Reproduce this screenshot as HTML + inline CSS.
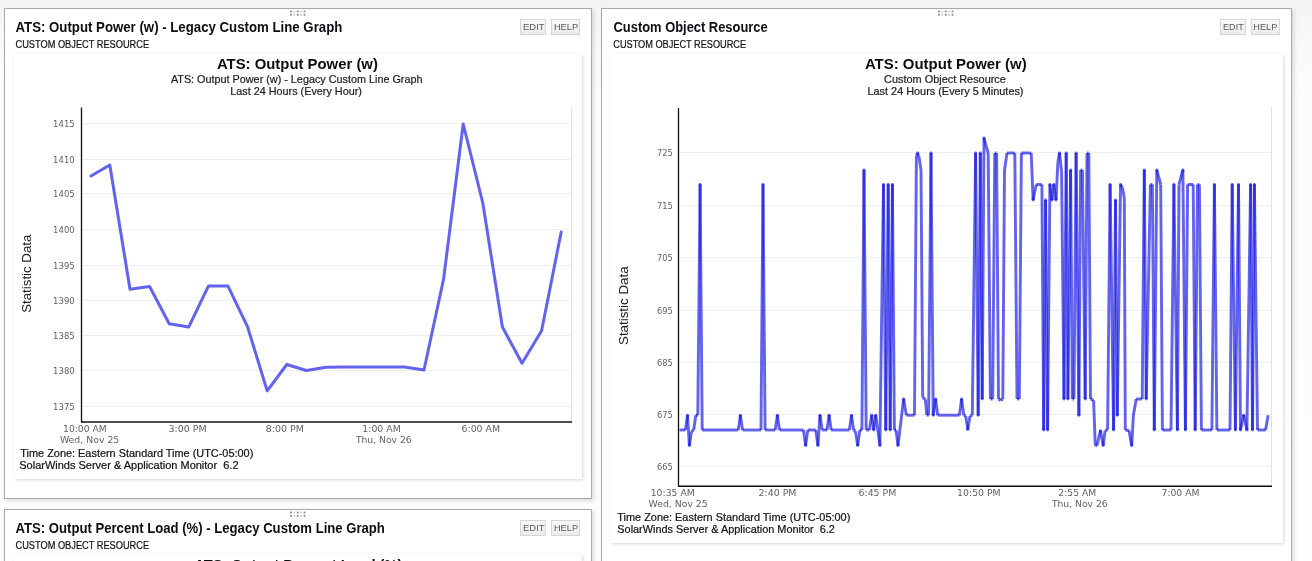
<!DOCTYPE html>
<html><head><meta charset="utf-8"><title>Custom Object Resource</title>
<style>
html,body{margin:0;padding:0;}
body{width:1312px;height:561px;overflow:hidden;background:linear-gradient(#f3f3f3 0px,#f6f6f6 20px,#f9f9f9 45px,#fcfcfc 95px,#fdfdfd 561px);position:relative;}
svg{position:absolute;left:0;top:0;}
</style></head><body>
<div style="position:absolute;left:4px;top:8px;width:588px;height:491px;box-sizing:border-box;border:1px solid #a9a9a9;background:#fff;box-shadow:2px 2px 4px rgba(0,0,0,0.13);"></div>
<div style="position:absolute;left:601px;top:8px;width:691px;height:600px;box-sizing:border-box;border:1px solid #a9a9a9;background:#fff;box-shadow:2px 2px 4px rgba(0,0,0,0.13);"></div>
<div style="position:absolute;left:4px;top:509px;width:588px;height:100px;box-sizing:border-box;border:1px solid #a9a9a9;background:#fff;box-shadow:2px 2px 4px rgba(0,0,0,0.13);"></div>
<div style="position:absolute;left:13.5px;top:53.5px;width:568.5px;height:425px;background:#fff;box-shadow:1px 1px 3px rgba(0,0,0,0.16);"></div>
<div style="position:absolute;left:610.5px;top:53.5px;width:672px;height:489.5px;background:#fff;box-shadow:1px 1px 3px rgba(0,0,0,0.16);"></div>
<div style="position:absolute;left:13.5px;top:554px;width:568.5px;height:50px;background:#fff;box-shadow:1px 1px 3px rgba(0,0,0,0.16);"></div>
<div style="position:absolute;left:520.3px;top:19px;width:26px;height:16px;box-sizing:border-box;border:1px solid #d6d6d6;background:linear-gradient(#f8f8f8,#ececec);"></div>
<div style="position:absolute;left:551.3px;top:19px;width:29px;height:16px;box-sizing:border-box;border:1px solid #d6d6d6;background:linear-gradient(#f8f8f8,#ececec);"></div>
<div style="position:absolute;left:1220.1px;top:19px;width:26px;height:16px;box-sizing:border-box;border:1px solid #d6d6d6;background:linear-gradient(#f8f8f8,#ececec);"></div>
<div style="position:absolute;left:1251.1px;top:19px;width:29px;height:16px;box-sizing:border-box;border:1px solid #d6d6d6;background:linear-gradient(#f8f8f8,#ececec);"></div>
<div style="position:absolute;left:520.3px;top:520px;width:26px;height:16px;box-sizing:border-box;border:1px solid #d6d6d6;background:linear-gradient(#f8f8f8,#ececec);"></div>
<div style="position:absolute;left:551.3px;top:520px;width:29px;height:16px;box-sizing:border-box;border:1px solid #d6d6d6;background:linear-gradient(#f8f8f8,#ececec);"></div>
<svg width="1312" height="561" viewBox="0 0 1312 561">
<rect x="290.0" y="10.6" width="1.8" height="1.8" fill="#8a8a8a"/>
<rect x="293.4" y="10.6" width="1.8" height="1.8" fill="#cfcfcf"/>
<rect x="296.8" y="10.6" width="1.8" height="1.8" fill="#8a8a8a"/>
<rect x="300.2" y="10.6" width="1.8" height="1.8" fill="#cfcfcf"/>
<rect x="303.6" y="10.6" width="1.8" height="1.8" fill="#8a8a8a"/>
<rect x="290.0" y="13.9" width="1.8" height="1.8" fill="#8a8a8a"/>
<rect x="293.4" y="13.9" width="1.8" height="1.8" fill="#cfcfcf"/>
<rect x="296.8" y="13.9" width="1.8" height="1.8" fill="#8a8a8a"/>
<rect x="300.2" y="13.9" width="1.8" height="1.8" fill="#cfcfcf"/>
<rect x="303.6" y="13.9" width="1.8" height="1.8" fill="#8a8a8a"/>
<rect x="938.0" y="10.6" width="1.8" height="1.8" fill="#8a8a8a"/>
<rect x="941.4" y="10.6" width="1.8" height="1.8" fill="#cfcfcf"/>
<rect x="944.8" y="10.6" width="1.8" height="1.8" fill="#8a8a8a"/>
<rect x="948.2" y="10.6" width="1.8" height="1.8" fill="#cfcfcf"/>
<rect x="951.6" y="10.6" width="1.8" height="1.8" fill="#8a8a8a"/>
<rect x="938.0" y="13.9" width="1.8" height="1.8" fill="#8a8a8a"/>
<rect x="941.4" y="13.9" width="1.8" height="1.8" fill="#cfcfcf"/>
<rect x="944.8" y="13.9" width="1.8" height="1.8" fill="#8a8a8a"/>
<rect x="948.2" y="13.9" width="1.8" height="1.8" fill="#cfcfcf"/>
<rect x="951.6" y="13.9" width="1.8" height="1.8" fill="#8a8a8a"/>
<rect x="290.0" y="511.6" width="1.8" height="1.8" fill="#8a8a8a"/>
<rect x="293.4" y="511.6" width="1.8" height="1.8" fill="#cfcfcf"/>
<rect x="296.8" y="511.6" width="1.8" height="1.8" fill="#8a8a8a"/>
<rect x="300.2" y="511.6" width="1.8" height="1.8" fill="#cfcfcf"/>
<rect x="303.6" y="511.6" width="1.8" height="1.8" fill="#8a8a8a"/>
<rect x="290.0" y="514.9" width="1.8" height="1.8" fill="#8a8a8a"/>
<rect x="293.4" y="514.9" width="1.8" height="1.8" fill="#cfcfcf"/>
<rect x="296.8" y="514.9" width="1.8" height="1.8" fill="#8a8a8a"/>
<rect x="300.2" y="514.9" width="1.8" height="1.8" fill="#cfcfcf"/>
<rect x="303.6" y="514.9" width="1.8" height="1.8" fill="#8a8a8a"/>
<line x1="82" y1="123.5" x2="571" y2="123.5" stroke="#eeeeee" stroke-width="1" />
<line x1="82" y1="159.5" x2="571" y2="159.5" stroke="#eeeeee" stroke-width="1" />
<line x1="82" y1="193.5" x2="571" y2="193.5" stroke="#eeeeee" stroke-width="1" />
<line x1="82" y1="229.5" x2="571" y2="229.5" stroke="#eeeeee" stroke-width="1" />
<line x1="82" y1="265.5" x2="571" y2="265.5" stroke="#eeeeee" stroke-width="1" />
<line x1="82" y1="300.5" x2="571" y2="300.5" stroke="#eeeeee" stroke-width="1" />
<line x1="82" y1="335.5" x2="571" y2="335.5" stroke="#eeeeee" stroke-width="1" />
<line x1="82" y1="370.5" x2="571" y2="370.5" stroke="#eeeeee" stroke-width="1" />
<line x1="82" y1="406.5" x2="571" y2="406.5" stroke="#eeeeee" stroke-width="1" />
<line x1="571.5" y1="107" x2="571.5" y2="421" stroke="#e4e4e4" stroke-width="1" />
<line x1="81.5" y1="107.5" x2="81.5" y2="422.5" stroke="#111" stroke-width="1.3" />
<line x1="81" y1="422" x2="572" y2="422" stroke="#111" stroke-width="1.6" />
<line x1="679" y1="152.5" x2="1271" y2="152.5" stroke="#eeeeee" stroke-width="1" />
<line x1="679" y1="205.5" x2="1271" y2="205.5" stroke="#eeeeee" stroke-width="1" />
<line x1="679" y1="257.5" x2="1271" y2="257.5" stroke="#eeeeee" stroke-width="1" />
<line x1="679" y1="310.5" x2="1271" y2="310.5" stroke="#eeeeee" stroke-width="1" />
<line x1="679" y1="362.5" x2="1271" y2="362.5" stroke="#eeeeee" stroke-width="1" />
<line x1="679" y1="414.5" x2="1271" y2="414.5" stroke="#eeeeee" stroke-width="1" />
<line x1="679" y1="466.5" x2="1271" y2="466.5" stroke="#eeeeee" stroke-width="1" />
<line x1="1271.5" y1="107" x2="1271.5" y2="485" stroke="#e4e4e4" stroke-width="1" />
<line x1="678.5" y1="107.9" x2="678.5" y2="486.5" stroke="#111" stroke-width="1.3" />
<line x1="678" y1="486.2" x2="1272" y2="486.2" stroke="#111" stroke-width="1.6" />
<polyline points="91,176 109.8,165.0 130,289.2 149.6,286.5 169.2,323.7 188.8,326.9 208.4,286.1 228,286.1 247.6,326.9 267.2,390.9 286.8,364.5 306.4,370.5 326,367.2 345.6,367 365.2,367 384.8,367 404.4,367 424,370 443.6,279 463.2,124 482.8,203 502.4,327 522,363.2 541.6,330.7 561.2,232" fill="none" stroke="rgb(25,25,225)" stroke-opacity="0.68" stroke-width="3.0" stroke-linejoin="round" stroke-linecap="round"/>
<line x1="679.5" y1="430" x2="685.4" y2="430" stroke="rgb(25,25,225)" stroke-opacity="0.68" stroke-width="2.9" stroke-linecap="butt"/>
<line x1="685.4" y1="430" x2="687.5" y2="415.2" stroke="rgb(25,25,225)" stroke-opacity="0.68" stroke-width="2.9" stroke-linecap="butt"/>
<line x1="687.5" y1="415.2" x2="689.4" y2="445.6" stroke="rgb(25,25,225)" stroke-opacity="0.68" stroke-width="2.9" stroke-linecap="butt"/>
<line x1="689.4" y1="445.6" x2="691.4" y2="431.5" stroke="rgb(25,25,225)" stroke-opacity="0.68" stroke-width="2.9" stroke-linecap="butt"/>
<line x1="691.4" y1="431.5" x2="693.7" y2="430" stroke="rgb(25,25,225)" stroke-opacity="0.68" stroke-width="2.9" stroke-linecap="butt"/>
<line x1="693.7" y1="430" x2="695.8" y2="415.2" stroke="rgb(25,25,225)" stroke-opacity="0.68" stroke-width="2.9" stroke-linecap="butt"/>
<line x1="695.8" y1="415.2" x2="697.8" y2="415.2" stroke="rgb(25,25,225)" stroke-opacity="0.68" stroke-width="2.9" stroke-linecap="butt"/>
<line x1="697.8" y1="415.2" x2="700.1" y2="184.5" stroke="rgb(25,25,225)" stroke-opacity="0.68" stroke-width="2.9" stroke-linecap="butt"/>
<line x1="700.1" y1="184.5" x2="702.2" y2="430" stroke="rgb(25,25,225)" stroke-opacity="0.68" stroke-width="2.9" stroke-linecap="butt"/>
<line x1="702.2" y1="430" x2="738.3" y2="430" stroke="rgb(25,25,225)" stroke-opacity="0.68" stroke-width="2.9" stroke-linecap="butt"/>
<line x1="738.3" y1="430" x2="740.4" y2="415.2" stroke="rgb(25,25,225)" stroke-opacity="0.68" stroke-width="2.9" stroke-linecap="butt"/>
<line x1="740.4" y1="415.2" x2="742.5" y2="430" stroke="rgb(25,25,225)" stroke-opacity="0.68" stroke-width="2.9" stroke-linecap="butt"/>
<line x1="742.5" y1="430" x2="761.0" y2="430" stroke="rgb(25,25,225)" stroke-opacity="0.68" stroke-width="2.9" stroke-linecap="butt"/>
<line x1="761.0" y1="430" x2="763.0" y2="184.5" stroke="rgb(25,25,225)" stroke-opacity="0.68" stroke-width="2.9" stroke-linecap="butt"/>
<line x1="763.0" y1="184.5" x2="765.1" y2="430" stroke="rgb(25,25,225)" stroke-opacity="0.68" stroke-width="2.9" stroke-linecap="butt"/>
<line x1="765.1" y1="430" x2="775.3" y2="430" stroke="rgb(25,25,225)" stroke-opacity="0.68" stroke-width="2.9" stroke-linecap="butt"/>
<line x1="775.3" y1="430" x2="777.4" y2="415.2" stroke="rgb(25,25,225)" stroke-opacity="0.68" stroke-width="2.9" stroke-linecap="butt"/>
<line x1="777.4" y1="415.2" x2="779.5" y2="430" stroke="rgb(25,25,225)" stroke-opacity="0.68" stroke-width="2.9" stroke-linecap="butt"/>
<line x1="779.5" y1="430" x2="803.5" y2="430" stroke="rgb(25,25,225)" stroke-opacity="0.68" stroke-width="2.9" stroke-linecap="butt"/>
<line x1="803.5" y1="430" x2="805.6" y2="445.6" stroke="rgb(25,25,225)" stroke-opacity="0.68" stroke-width="2.9" stroke-linecap="butt"/>
<line x1="805.6" y1="445.6" x2="807.8" y2="430" stroke="rgb(25,25,225)" stroke-opacity="0.68" stroke-width="2.9" stroke-linecap="butt"/>
<line x1="807.8" y1="430" x2="815.8" y2="430" stroke="rgb(25,25,225)" stroke-opacity="0.68" stroke-width="2.9" stroke-linecap="butt"/>
<line x1="815.8" y1="430" x2="817.9" y2="445.6" stroke="rgb(25,25,225)" stroke-opacity="0.68" stroke-width="2.9" stroke-linecap="butt"/>
<line x1="817.9" y1="445.6" x2="820.0" y2="415.2" stroke="rgb(25,25,225)" stroke-opacity="0.68" stroke-width="2.9" stroke-linecap="butt"/>
<line x1="820.0" y1="415.2" x2="822.1" y2="430" stroke="rgb(25,25,225)" stroke-opacity="0.68" stroke-width="2.9" stroke-linecap="butt"/>
<line x1="822.1" y1="430" x2="827.0" y2="430" stroke="rgb(25,25,225)" stroke-opacity="0.68" stroke-width="2.9" stroke-linecap="butt"/>
<line x1="827.0" y1="430" x2="829.1" y2="415.2" stroke="rgb(25,25,225)" stroke-opacity="0.68" stroke-width="2.9" stroke-linecap="butt"/>
<line x1="829.1" y1="415.2" x2="831.2" y2="430" stroke="rgb(25,25,225)" stroke-opacity="0.68" stroke-width="2.9" stroke-linecap="butt"/>
<line x1="831.2" y1="430" x2="849.4" y2="430" stroke="rgb(25,25,225)" stroke-opacity="0.68" stroke-width="2.9" stroke-linecap="butt"/>
<line x1="849.4" y1="430" x2="851.5" y2="415.2" stroke="rgb(25,25,225)" stroke-opacity="0.68" stroke-width="2.9" stroke-linecap="butt"/>
<line x1="851.5" y1="415.2" x2="853.6" y2="430" stroke="rgb(25,25,225)" stroke-opacity="0.68" stroke-width="2.9" stroke-linecap="butt"/>
<line x1="853.6" y1="430" x2="855.5" y2="431.5" stroke="rgb(25,25,225)" stroke-opacity="0.68" stroke-width="2.9" stroke-linecap="butt"/>
<line x1="855.5" y1="431.5" x2="857.7" y2="445.6" stroke="rgb(25,25,225)" stroke-opacity="0.68" stroke-width="2.9" stroke-linecap="butt"/>
<line x1="857.7" y1="445.6" x2="859.9" y2="430" stroke="rgb(25,25,225)" stroke-opacity="0.68" stroke-width="2.9" stroke-linecap="butt"/>
<line x1="859.9" y1="430" x2="861.9" y2="430" stroke="rgb(25,25,225)" stroke-opacity="0.68" stroke-width="2.9" stroke-linecap="butt"/>
<line x1="861.9" y1="430" x2="864.0" y2="170" stroke="rgb(25,25,225)" stroke-opacity="0.68" stroke-width="2.9" stroke-linecap="butt"/>
<line x1="864.0" y1="170" x2="866.2" y2="430" stroke="rgb(25,25,225)" stroke-opacity="0.68" stroke-width="2.9" stroke-linecap="butt"/>
<line x1="866.2" y1="430" x2="869.4" y2="430" stroke="rgb(25,25,225)" stroke-opacity="0.68" stroke-width="2.9" stroke-linecap="butt"/>
<line x1="869.4" y1="430" x2="871.7" y2="415.2" stroke="rgb(25,25,225)" stroke-opacity="0.68" stroke-width="2.9" stroke-linecap="butt"/>
<line x1="871.7" y1="415.2" x2="873.7" y2="430" stroke="rgb(25,25,225)" stroke-opacity="0.68" stroke-width="2.9" stroke-linecap="butt"/>
<line x1="873.7" y1="430" x2="875.7" y2="415.2" stroke="rgb(25,25,225)" stroke-opacity="0.68" stroke-width="2.9" stroke-linecap="butt"/>
<line x1="875.7" y1="415.2" x2="877.8" y2="430" stroke="rgb(25,25,225)" stroke-opacity="0.68" stroke-width="2.9" stroke-linecap="butt"/>
<line x1="877.8" y1="430" x2="879.9" y2="445.6" stroke="rgb(25,25,225)" stroke-opacity="0.68" stroke-width="2.9" stroke-linecap="butt"/>
<line x1="879.9" y1="445.6" x2="883.5" y2="184.5" stroke="rgb(25,25,225)" stroke-opacity="0.68" stroke-width="2.9" stroke-linecap="butt"/>
<line x1="883.5" y1="184.5" x2="885.8" y2="430" stroke="rgb(25,25,225)" stroke-opacity="0.68" stroke-width="2.9" stroke-linecap="butt"/>
<line x1="885.8" y1="430" x2="888.2" y2="184.5" stroke="rgb(25,25,225)" stroke-opacity="0.68" stroke-width="2.9" stroke-linecap="butt"/>
<line x1="888.2" y1="184.5" x2="890.2" y2="430" stroke="rgb(25,25,225)" stroke-opacity="0.68" stroke-width="2.9" stroke-linecap="butt"/>
<line x1="890.2" y1="430" x2="892.4" y2="184.5" stroke="rgb(25,25,225)" stroke-opacity="0.68" stroke-width="2.9" stroke-linecap="butt"/>
<line x1="892.4" y1="184.5" x2="894.4" y2="430" stroke="rgb(25,25,225)" stroke-opacity="0.68" stroke-width="2.9" stroke-linecap="butt"/>
<line x1="894.4" y1="430" x2="896.0" y2="430" stroke="rgb(25,25,225)" stroke-opacity="0.68" stroke-width="2.9" stroke-linecap="butt"/>
<line x1="896.0" y1="430" x2="898.0" y2="445.6" stroke="rgb(25,25,225)" stroke-opacity="0.68" stroke-width="2.9" stroke-linecap="butt"/>
<line x1="898.0" y1="445.6" x2="903.6" y2="399" stroke="rgb(25,25,225)" stroke-opacity="0.68" stroke-width="2.9" stroke-linecap="butt"/>
<line x1="903.6" y1="399" x2="906.4" y2="415.2" stroke="rgb(25,25,225)" stroke-opacity="0.68" stroke-width="2.9" stroke-linecap="butt"/>
<line x1="906.4" y1="415.2" x2="914.5" y2="415.2" stroke="rgb(25,25,225)" stroke-opacity="0.68" stroke-width="2.9" stroke-linecap="butt"/>
<line x1="914.5" y1="415.2" x2="916.4" y2="156" stroke="rgb(25,25,225)" stroke-opacity="0.68" stroke-width="2.9" stroke-linecap="butt"/>
<line x1="916.4" y1="156" x2="917.6" y2="153" stroke="rgb(25,25,225)" stroke-opacity="0.68" stroke-width="2.9" stroke-linecap="butt"/>
<line x1="917.6" y1="153" x2="919.2" y2="158" stroke="rgb(25,25,225)" stroke-opacity="0.68" stroke-width="2.9" stroke-linecap="butt"/>
<line x1="919.2" y1="158" x2="921.0" y2="170" stroke="rgb(25,25,225)" stroke-opacity="0.68" stroke-width="2.9" stroke-linecap="butt"/>
<line x1="921.0" y1="170" x2="922.7" y2="397.5" stroke="rgb(25,25,225)" stroke-opacity="0.68" stroke-width="2.9" stroke-linecap="butt"/>
<line x1="922.7" y1="397.5" x2="925.4" y2="399.5" stroke="rgb(25,25,225)" stroke-opacity="0.68" stroke-width="2.9" stroke-linecap="butt"/>
<line x1="925.4" y1="399.5" x2="926.8" y2="415.2" stroke="rgb(25,25,225)" stroke-opacity="0.68" stroke-width="2.9" stroke-linecap="butt"/>
<line x1="926.8" y1="415.2" x2="928.6" y2="415.2" stroke="rgb(25,25,225)" stroke-opacity="0.68" stroke-width="2.9" stroke-linecap="butt"/>
<line x1="928.6" y1="415.2" x2="931.0" y2="153" stroke="rgb(25,25,225)" stroke-opacity="0.68" stroke-width="2.9" stroke-linecap="butt"/>
<line x1="931.0" y1="153" x2="933.2" y2="415.2" stroke="rgb(25,25,225)" stroke-opacity="0.68" stroke-width="2.9" stroke-linecap="butt"/>
<line x1="933.2" y1="415.2" x2="935.6" y2="399" stroke="rgb(25,25,225)" stroke-opacity="0.68" stroke-width="2.9" stroke-linecap="butt"/>
<line x1="935.6" y1="399" x2="937.7" y2="415.2" stroke="rgb(25,25,225)" stroke-opacity="0.68" stroke-width="2.9" stroke-linecap="butt"/>
<line x1="937.7" y1="415.2" x2="959.4" y2="415.2" stroke="rgb(25,25,225)" stroke-opacity="0.68" stroke-width="2.9" stroke-linecap="butt"/>
<line x1="959.4" y1="415.2" x2="961.6" y2="399" stroke="rgb(25,25,225)" stroke-opacity="0.68" stroke-width="2.9" stroke-linecap="butt"/>
<line x1="961.6" y1="399" x2="963.8" y2="415.2" stroke="rgb(25,25,225)" stroke-opacity="0.68" stroke-width="2.9" stroke-linecap="butt"/>
<line x1="963.8" y1="415.2" x2="965.7" y2="416" stroke="rgb(25,25,225)" stroke-opacity="0.68" stroke-width="2.9" stroke-linecap="butt"/>
<line x1="965.7" y1="416" x2="967.8" y2="429.5" stroke="rgb(25,25,225)" stroke-opacity="0.68" stroke-width="2.9" stroke-linecap="butt"/>
<line x1="967.8" y1="429.5" x2="970.0" y2="416" stroke="rgb(25,25,225)" stroke-opacity="0.68" stroke-width="2.9" stroke-linecap="butt"/>
<line x1="970.0" y1="416" x2="972.3" y2="415.2" stroke="rgb(25,25,225)" stroke-opacity="0.68" stroke-width="2.9" stroke-linecap="butt"/>
<line x1="972.3" y1="415.2" x2="975.6" y2="153" stroke="rgb(25,25,225)" stroke-opacity="0.68" stroke-width="2.9" stroke-linecap="butt"/>
<line x1="975.6" y1="153" x2="978.2" y2="415.2" stroke="rgb(25,25,225)" stroke-opacity="0.68" stroke-width="2.9" stroke-linecap="butt"/>
<line x1="978.2" y1="415.2" x2="980.3" y2="153" stroke="rgb(25,25,225)" stroke-opacity="0.68" stroke-width="2.9" stroke-linecap="butt"/>
<line x1="980.3" y1="153" x2="982.2" y2="399" stroke="rgb(25,25,225)" stroke-opacity="0.68" stroke-width="2.9" stroke-linecap="butt"/>
<line x1="982.2" y1="399" x2="984.0" y2="138" stroke="rgb(25,25,225)" stroke-opacity="0.68" stroke-width="2.9" stroke-linecap="butt"/>
<line x1="984.0" y1="138" x2="986.1" y2="146" stroke="rgb(25,25,225)" stroke-opacity="0.68" stroke-width="2.9" stroke-linecap="butt"/>
<line x1="986.1" y1="146" x2="988.2" y2="153" stroke="rgb(25,25,225)" stroke-opacity="0.68" stroke-width="2.9" stroke-linecap="butt"/>
<line x1="988.2" y1="153" x2="990.4" y2="399" stroke="rgb(25,25,225)" stroke-opacity="0.68" stroke-width="2.9" stroke-linecap="butt"/>
<line x1="990.4" y1="399" x2="992.7" y2="399" stroke="rgb(25,25,225)" stroke-opacity="0.68" stroke-width="2.9" stroke-linecap="butt"/>
<line x1="992.7" y1="399" x2="994.8" y2="153" stroke="rgb(25,25,225)" stroke-opacity="0.68" stroke-width="2.9" stroke-linecap="butt"/>
<line x1="994.8" y1="153" x2="996.6" y2="153" stroke="rgb(25,25,225)" stroke-opacity="0.68" stroke-width="2.9" stroke-linecap="butt"/>
<line x1="996.6" y1="153" x2="998.5" y2="399" stroke="rgb(25,25,225)" stroke-opacity="0.68" stroke-width="2.9" stroke-linecap="butt"/>
<line x1="998.5" y1="399" x2="1000.6" y2="400.5" stroke="rgb(25,25,225)" stroke-opacity="0.68" stroke-width="2.9" stroke-linecap="butt"/>
<line x1="1000.6" y1="400.5" x2="1002.8" y2="399" stroke="rgb(25,25,225)" stroke-opacity="0.68" stroke-width="2.9" stroke-linecap="butt"/>
<line x1="1002.8" y1="399" x2="1004.5" y2="170" stroke="rgb(25,25,225)" stroke-opacity="0.68" stroke-width="2.9" stroke-linecap="butt"/>
<line x1="1004.5" y1="170" x2="1007.0" y2="153" stroke="rgb(25,25,225)" stroke-opacity="0.68" stroke-width="2.9" stroke-linecap="butt"/>
<line x1="1007.0" y1="153" x2="1014.8" y2="153" stroke="rgb(25,25,225)" stroke-opacity="0.68" stroke-width="2.9" stroke-linecap="butt"/>
<line x1="1014.8" y1="153" x2="1017.0" y2="399" stroke="rgb(25,25,225)" stroke-opacity="0.68" stroke-width="2.9" stroke-linecap="butt"/>
<line x1="1017.0" y1="399" x2="1019.3" y2="399" stroke="rgb(25,25,225)" stroke-opacity="0.68" stroke-width="2.9" stroke-linecap="butt"/>
<line x1="1019.3" y1="399" x2="1021.4" y2="153" stroke="rgb(25,25,225)" stroke-opacity="0.68" stroke-width="2.9" stroke-linecap="butt"/>
<line x1="1021.4" y1="153" x2="1031.2" y2="153" stroke="rgb(25,25,225)" stroke-opacity="0.68" stroke-width="2.9" stroke-linecap="butt"/>
<line x1="1031.2" y1="153" x2="1033.1" y2="200" stroke="rgb(25,25,225)" stroke-opacity="0.68" stroke-width="2.9" stroke-linecap="butt"/>
<line x1="1033.1" y1="200" x2="1036.3" y2="184.5" stroke="rgb(25,25,225)" stroke-opacity="0.68" stroke-width="2.9" stroke-linecap="butt"/>
<line x1="1036.3" y1="184.5" x2="1041.9" y2="184.5" stroke="rgb(25,25,225)" stroke-opacity="0.68" stroke-width="2.9" stroke-linecap="butt"/>
<line x1="1041.9" y1="184.5" x2="1043.7" y2="430" stroke="rgb(25,25,225)" stroke-opacity="0.68" stroke-width="2.9" stroke-linecap="butt"/>
<line x1="1043.7" y1="430" x2="1045.6" y2="200" stroke="rgb(25,25,225)" stroke-opacity="0.68" stroke-width="2.9" stroke-linecap="butt"/>
<line x1="1045.6" y1="200" x2="1047.6" y2="430" stroke="rgb(25,25,225)" stroke-opacity="0.68" stroke-width="2.9" stroke-linecap="butt"/>
<line x1="1047.6" y1="430" x2="1049.9" y2="184.5" stroke="rgb(25,25,225)" stroke-opacity="0.68" stroke-width="2.9" stroke-linecap="butt"/>
<line x1="1049.9" y1="184.5" x2="1051.9" y2="200" stroke="rgb(25,25,225)" stroke-opacity="0.68" stroke-width="2.9" stroke-linecap="butt"/>
<line x1="1051.9" y1="200" x2="1053.8" y2="184.5" stroke="rgb(25,25,225)" stroke-opacity="0.68" stroke-width="2.9" stroke-linecap="butt"/>
<line x1="1053.8" y1="184.5" x2="1056.0" y2="200" stroke="rgb(25,25,225)" stroke-opacity="0.68" stroke-width="2.9" stroke-linecap="butt"/>
<line x1="1056.0" y1="200" x2="1057.9" y2="162" stroke="rgb(25,25,225)" stroke-opacity="0.68" stroke-width="2.9" stroke-linecap="butt"/>
<line x1="1057.9" y1="162" x2="1059.5" y2="153" stroke="rgb(25,25,225)" stroke-opacity="0.68" stroke-width="2.9" stroke-linecap="butt"/>
<line x1="1059.5" y1="153" x2="1061.6" y2="172" stroke="rgb(25,25,225)" stroke-opacity="0.68" stroke-width="2.9" stroke-linecap="butt"/>
<line x1="1061.6" y1="172" x2="1064.0" y2="399" stroke="rgb(25,25,225)" stroke-opacity="0.68" stroke-width="2.9" stroke-linecap="butt"/>
<line x1="1064.0" y1="399" x2="1066.2" y2="153" stroke="rgb(25,25,225)" stroke-opacity="0.68" stroke-width="2.9" stroke-linecap="butt"/>
<line x1="1066.2" y1="153" x2="1067.9" y2="399" stroke="rgb(25,25,225)" stroke-opacity="0.68" stroke-width="2.9" stroke-linecap="butt"/>
<line x1="1067.9" y1="399" x2="1070.6" y2="170" stroke="rgb(25,25,225)" stroke-opacity="0.68" stroke-width="2.9" stroke-linecap="butt"/>
<line x1="1070.6" y1="170" x2="1072.4" y2="399" stroke="rgb(25,25,225)" stroke-opacity="0.68" stroke-width="2.9" stroke-linecap="butt"/>
<line x1="1072.4" y1="399" x2="1074.0" y2="399" stroke="rgb(25,25,225)" stroke-opacity="0.68" stroke-width="2.9" stroke-linecap="butt"/>
<line x1="1074.0" y1="399" x2="1076.1" y2="153" stroke="rgb(25,25,225)" stroke-opacity="0.68" stroke-width="2.9" stroke-linecap="butt"/>
<line x1="1076.1" y1="153" x2="1078.9" y2="415.2" stroke="rgb(25,25,225)" stroke-opacity="0.68" stroke-width="2.9" stroke-linecap="butt"/>
<line x1="1078.9" y1="415.2" x2="1080.6" y2="170" stroke="rgb(25,25,225)" stroke-opacity="0.68" stroke-width="2.9" stroke-linecap="butt"/>
<line x1="1080.6" y1="170" x2="1082.4" y2="170" stroke="rgb(25,25,225)" stroke-opacity="0.68" stroke-width="2.9" stroke-linecap="butt"/>
<line x1="1082.4" y1="170" x2="1085.2" y2="399" stroke="rgb(25,25,225)" stroke-opacity="0.68" stroke-width="2.9" stroke-linecap="butt"/>
<line x1="1085.2" y1="399" x2="1087.0" y2="153" stroke="rgb(25,25,225)" stroke-opacity="0.68" stroke-width="2.9" stroke-linecap="butt"/>
<line x1="1087.0" y1="153" x2="1088.8" y2="153" stroke="rgb(25,25,225)" stroke-opacity="0.68" stroke-width="2.9" stroke-linecap="butt"/>
<line x1="1088.8" y1="153" x2="1090.5" y2="399" stroke="rgb(25,25,225)" stroke-opacity="0.68" stroke-width="2.9" stroke-linecap="butt"/>
<line x1="1090.5" y1="399" x2="1093.6" y2="400.2" stroke="rgb(25,25,225)" stroke-opacity="0.68" stroke-width="2.9" stroke-linecap="butt"/>
<line x1="1093.6" y1="400.2" x2="1095.3" y2="445.6" stroke="rgb(25,25,225)" stroke-opacity="0.68" stroke-width="2.9" stroke-linecap="butt"/>
<line x1="1095.3" y1="445.6" x2="1096.9" y2="445.6" stroke="rgb(25,25,225)" stroke-opacity="0.68" stroke-width="2.9" stroke-linecap="butt"/>
<line x1="1096.9" y1="445.6" x2="1100.5" y2="430.6" stroke="rgb(25,25,225)" stroke-opacity="0.68" stroke-width="2.9" stroke-linecap="butt"/>
<line x1="1100.5" y1="430.6" x2="1103.2" y2="445.6" stroke="rgb(25,25,225)" stroke-opacity="0.68" stroke-width="2.9" stroke-linecap="butt"/>
<line x1="1103.2" y1="445.6" x2="1105.0" y2="431" stroke="rgb(25,25,225)" stroke-opacity="0.68" stroke-width="2.9" stroke-linecap="butt"/>
<line x1="1105.0" y1="431" x2="1107.6" y2="429.5" stroke="rgb(25,25,225)" stroke-opacity="0.68" stroke-width="2.9" stroke-linecap="butt"/>
<line x1="1107.6" y1="429.5" x2="1110.1" y2="184.5" stroke="rgb(25,25,225)" stroke-opacity="0.68" stroke-width="2.9" stroke-linecap="butt"/>
<line x1="1110.1" y1="184.5" x2="1113.6" y2="430" stroke="rgb(25,25,225)" stroke-opacity="0.68" stroke-width="2.9" stroke-linecap="butt"/>
<line x1="1113.6" y1="430" x2="1115.5" y2="200" stroke="rgb(25,25,225)" stroke-opacity="0.68" stroke-width="2.9" stroke-linecap="butt"/>
<line x1="1115.5" y1="200" x2="1117.3" y2="415.2" stroke="rgb(25,25,225)" stroke-opacity="0.68" stroke-width="2.9" stroke-linecap="butt"/>
<line x1="1117.3" y1="415.2" x2="1120.5" y2="184.5" stroke="rgb(25,25,225)" stroke-opacity="0.68" stroke-width="2.9" stroke-linecap="butt"/>
<line x1="1120.5" y1="184.5" x2="1122.5" y2="188" stroke="rgb(25,25,225)" stroke-opacity="0.68" stroke-width="2.9" stroke-linecap="butt"/>
<line x1="1122.5" y1="188" x2="1124.3" y2="198" stroke="rgb(25,25,225)" stroke-opacity="0.68" stroke-width="2.9" stroke-linecap="butt"/>
<line x1="1124.3" y1="198" x2="1125.3" y2="430" stroke="rgb(25,25,225)" stroke-opacity="0.68" stroke-width="2.9" stroke-linecap="butt"/>
<line x1="1125.3" y1="430" x2="1129.0" y2="430.6" stroke="rgb(25,25,225)" stroke-opacity="0.68" stroke-width="2.9" stroke-linecap="butt"/>
<line x1="1129.0" y1="430.6" x2="1131.7" y2="445.6" stroke="rgb(25,25,225)" stroke-opacity="0.68" stroke-width="2.9" stroke-linecap="butt"/>
<line x1="1131.7" y1="445.6" x2="1133.4" y2="415.2" stroke="rgb(25,25,225)" stroke-opacity="0.68" stroke-width="2.9" stroke-linecap="butt"/>
<line x1="1133.4" y1="415.2" x2="1136.2" y2="399" stroke="rgb(25,25,225)" stroke-opacity="0.68" stroke-width="2.9" stroke-linecap="butt"/>
<line x1="1136.2" y1="399" x2="1142.2" y2="399" stroke="rgb(25,25,225)" stroke-opacity="0.68" stroke-width="2.9" stroke-linecap="butt"/>
<line x1="1142.2" y1="399" x2="1144.3" y2="170" stroke="rgb(25,25,225)" stroke-opacity="0.68" stroke-width="2.9" stroke-linecap="butt"/>
<line x1="1144.3" y1="170" x2="1146.2" y2="399" stroke="rgb(25,25,225)" stroke-opacity="0.68" stroke-width="2.9" stroke-linecap="butt"/>
<line x1="1146.2" y1="399" x2="1150.4" y2="184.5" stroke="rgb(25,25,225)" stroke-opacity="0.68" stroke-width="2.9" stroke-linecap="butt"/>
<line x1="1150.4" y1="184.5" x2="1152.4" y2="184.5" stroke="rgb(25,25,225)" stroke-opacity="0.68" stroke-width="2.9" stroke-linecap="butt"/>
<line x1="1152.4" y1="184.5" x2="1154.3" y2="430" stroke="rgb(25,25,225)" stroke-opacity="0.68" stroke-width="2.9" stroke-linecap="butt"/>
<line x1="1154.3" y1="430" x2="1156.8" y2="170" stroke="rgb(25,25,225)" stroke-opacity="0.68" stroke-width="2.9" stroke-linecap="butt"/>
<line x1="1156.8" y1="170" x2="1158.8" y2="177.5" stroke="rgb(25,25,225)" stroke-opacity="0.68" stroke-width="2.9" stroke-linecap="butt"/>
<line x1="1158.8" y1="177.5" x2="1160.7" y2="184.5" stroke="rgb(25,25,225)" stroke-opacity="0.68" stroke-width="2.9" stroke-linecap="butt"/>
<line x1="1160.7" y1="184.5" x2="1162.4" y2="430" stroke="rgb(25,25,225)" stroke-opacity="0.68" stroke-width="2.9" stroke-linecap="butt"/>
<line x1="1162.4" y1="430" x2="1171.0" y2="430" stroke="rgb(25,25,225)" stroke-opacity="0.68" stroke-width="2.9" stroke-linecap="butt"/>
<line x1="1171.0" y1="430" x2="1173.9" y2="184.5" stroke="rgb(25,25,225)" stroke-opacity="0.68" stroke-width="2.9" stroke-linecap="butt"/>
<line x1="1173.9" y1="184.5" x2="1177.4" y2="430" stroke="rgb(25,25,225)" stroke-opacity="0.68" stroke-width="2.9" stroke-linecap="butt"/>
<line x1="1177.4" y1="430" x2="1179.0" y2="184.5" stroke="rgb(25,25,225)" stroke-opacity="0.68" stroke-width="2.9" stroke-linecap="butt"/>
<line x1="1179.0" y1="184.5" x2="1182.9" y2="170" stroke="rgb(25,25,225)" stroke-opacity="0.68" stroke-width="2.9" stroke-linecap="butt"/>
<line x1="1182.9" y1="170" x2="1185.4" y2="430" stroke="rgb(25,25,225)" stroke-opacity="0.68" stroke-width="2.9" stroke-linecap="butt"/>
<line x1="1185.4" y1="430" x2="1187.6" y2="184.5" stroke="rgb(25,25,225)" stroke-opacity="0.68" stroke-width="2.9" stroke-linecap="butt"/>
<line x1="1187.6" y1="184.5" x2="1193.2" y2="184.5" stroke="rgb(25,25,225)" stroke-opacity="0.68" stroke-width="2.9" stroke-linecap="butt"/>
<line x1="1193.2" y1="184.5" x2="1195.2" y2="430" stroke="rgb(25,25,225)" stroke-opacity="0.68" stroke-width="2.9" stroke-linecap="butt"/>
<line x1="1195.2" y1="430" x2="1197.5" y2="184.5" stroke="rgb(25,25,225)" stroke-opacity="0.68" stroke-width="2.9" stroke-linecap="butt"/>
<line x1="1197.5" y1="184.5" x2="1199.4" y2="184.5" stroke="rgb(25,25,225)" stroke-opacity="0.68" stroke-width="2.9" stroke-linecap="butt"/>
<line x1="1199.4" y1="184.5" x2="1201.4" y2="430" stroke="rgb(25,25,225)" stroke-opacity="0.68" stroke-width="2.9" stroke-linecap="butt"/>
<line x1="1201.4" y1="430" x2="1211.9" y2="430" stroke="rgb(25,25,225)" stroke-opacity="0.68" stroke-width="2.9" stroke-linecap="butt"/>
<line x1="1211.9" y1="430" x2="1214.4" y2="184.5" stroke="rgb(25,25,225)" stroke-opacity="0.68" stroke-width="2.9" stroke-linecap="butt"/>
<line x1="1214.4" y1="184.5" x2="1216.9" y2="430" stroke="rgb(25,25,225)" stroke-opacity="0.68" stroke-width="2.9" stroke-linecap="butt"/>
<line x1="1216.9" y1="430" x2="1230.0" y2="430" stroke="rgb(25,25,225)" stroke-opacity="0.68" stroke-width="2.9" stroke-linecap="butt"/>
<line x1="1230.0" y1="430" x2="1232.2" y2="184.5" stroke="rgb(25,25,225)" stroke-opacity="0.68" stroke-width="2.9" stroke-linecap="butt"/>
<line x1="1232.2" y1="184.5" x2="1235.4" y2="430" stroke="rgb(25,25,225)" stroke-opacity="0.68" stroke-width="2.9" stroke-linecap="butt"/>
<line x1="1235.4" y1="430" x2="1238.5" y2="184.5" stroke="rgb(25,25,225)" stroke-opacity="0.68" stroke-width="2.9" stroke-linecap="butt"/>
<line x1="1238.5" y1="184.5" x2="1240.5" y2="430" stroke="rgb(25,25,225)" stroke-opacity="0.68" stroke-width="2.9" stroke-linecap="butt"/>
<line x1="1240.5" y1="430" x2="1243.7" y2="415.2" stroke="rgb(25,25,225)" stroke-opacity="0.68" stroke-width="2.9" stroke-linecap="butt"/>
<line x1="1243.7" y1="415.2" x2="1246.9" y2="430" stroke="rgb(25,25,225)" stroke-opacity="0.68" stroke-width="2.9" stroke-linecap="butt"/>
<line x1="1246.9" y1="430" x2="1250.6" y2="184.5" stroke="rgb(25,25,225)" stroke-opacity="0.68" stroke-width="2.9" stroke-linecap="butt"/>
<line x1="1250.6" y1="184.5" x2="1252.5" y2="430" stroke="rgb(25,25,225)" stroke-opacity="0.68" stroke-width="2.9" stroke-linecap="butt"/>
<line x1="1252.5" y1="430" x2="1254.4" y2="184.5" stroke="rgb(25,25,225)" stroke-opacity="0.68" stroke-width="2.9" stroke-linecap="butt"/>
<line x1="1254.4" y1="184.5" x2="1257.5" y2="430" stroke="rgb(25,25,225)" stroke-opacity="0.68" stroke-width="2.9" stroke-linecap="butt"/>
<line x1="1257.5" y1="430" x2="1265.6" y2="430" stroke="rgb(25,25,225)" stroke-opacity="0.68" stroke-width="2.9" stroke-linecap="butt"/>
<line x1="1265.6" y1="430" x2="1268.1" y2="415.2" stroke="rgb(25,25,225)" stroke-opacity="0.68" stroke-width="2.9" stroke-linecap="butt"/>
<circle cx="687.5" cy="415.2" r="1.45" fill="rgb(25,25,225)" fill-opacity="0.68"/>
<circle cx="689.4" cy="445.6" r="1.45" fill="rgb(25,25,225)" fill-opacity="0.68"/>
<circle cx="700.1" cy="184.5" r="1.45" fill="rgb(25,25,225)" fill-opacity="0.68"/>
<circle cx="740.4" cy="415.2" r="1.45" fill="rgb(25,25,225)" fill-opacity="0.68"/>
<circle cx="763.0" cy="184.5" r="1.45" fill="rgb(25,25,225)" fill-opacity="0.68"/>
<circle cx="777.4" cy="415.2" r="1.45" fill="rgb(25,25,225)" fill-opacity="0.68"/>
<circle cx="805.6" cy="445.6" r="1.45" fill="rgb(25,25,225)" fill-opacity="0.68"/>
<circle cx="817.9" cy="445.6" r="1.45" fill="rgb(25,25,225)" fill-opacity="0.68"/>
<circle cx="820.0" cy="415.2" r="1.45" fill="rgb(25,25,225)" fill-opacity="0.68"/>
<circle cx="829.1" cy="415.2" r="1.45" fill="rgb(25,25,225)" fill-opacity="0.68"/>
<circle cx="851.5" cy="415.2" r="1.45" fill="rgb(25,25,225)" fill-opacity="0.68"/>
<circle cx="857.7" cy="445.6" r="1.45" fill="rgb(25,25,225)" fill-opacity="0.68"/>
<circle cx="864.0" cy="170" r="1.45" fill="rgb(25,25,225)" fill-opacity="0.68"/>
<circle cx="871.7" cy="415.2" r="1.45" fill="rgb(25,25,225)" fill-opacity="0.68"/>
<circle cx="873.7" cy="430" r="1.45" fill="rgb(25,25,225)" fill-opacity="0.68"/>
<circle cx="875.7" cy="415.2" r="1.45" fill="rgb(25,25,225)" fill-opacity="0.68"/>
<circle cx="879.9" cy="445.6" r="1.45" fill="rgb(25,25,225)" fill-opacity="0.68"/>
<circle cx="883.5" cy="184.5" r="1.45" fill="rgb(25,25,225)" fill-opacity="0.68"/>
<circle cx="885.8" cy="430" r="1.45" fill="rgb(25,25,225)" fill-opacity="0.68"/>
<circle cx="888.2" cy="184.5" r="1.45" fill="rgb(25,25,225)" fill-opacity="0.68"/>
<circle cx="890.2" cy="430" r="1.45" fill="rgb(25,25,225)" fill-opacity="0.68"/>
<circle cx="892.4" cy="184.5" r="1.45" fill="rgb(25,25,225)" fill-opacity="0.68"/>
<circle cx="898.0" cy="445.6" r="1.45" fill="rgb(25,25,225)" fill-opacity="0.68"/>
<circle cx="903.6" cy="399" r="1.45" fill="rgb(25,25,225)" fill-opacity="0.68"/>
<circle cx="917.6" cy="153" r="1.45" fill="rgb(25,25,225)" fill-opacity="0.68"/>
<circle cx="931.0" cy="153" r="1.45" fill="rgb(25,25,225)" fill-opacity="0.68"/>
<circle cx="933.2" cy="415.2" r="1.45" fill="rgb(25,25,225)" fill-opacity="0.68"/>
<circle cx="935.6" cy="399" r="1.45" fill="rgb(25,25,225)" fill-opacity="0.68"/>
<circle cx="961.6" cy="399" r="1.45" fill="rgb(25,25,225)" fill-opacity="0.68"/>
<circle cx="967.8" cy="429.5" r="1.45" fill="rgb(25,25,225)" fill-opacity="0.68"/>
<circle cx="975.6" cy="153" r="1.45" fill="rgb(25,25,225)" fill-opacity="0.68"/>
<circle cx="978.2" cy="415.2" r="1.45" fill="rgb(25,25,225)" fill-opacity="0.68"/>
<circle cx="980.3" cy="153" r="1.45" fill="rgb(25,25,225)" fill-opacity="0.68"/>
<circle cx="982.2" cy="399" r="1.45" fill="rgb(25,25,225)" fill-opacity="0.68"/>
<circle cx="984.0" cy="138" r="1.45" fill="rgb(25,25,225)" fill-opacity="0.68"/>
<circle cx="1033.1" cy="200" r="1.45" fill="rgb(25,25,225)" fill-opacity="0.68"/>
<circle cx="1043.7" cy="430" r="1.45" fill="rgb(25,25,225)" fill-opacity="0.68"/>
<circle cx="1045.6" cy="200" r="1.45" fill="rgb(25,25,225)" fill-opacity="0.68"/>
<circle cx="1047.6" cy="430" r="1.45" fill="rgb(25,25,225)" fill-opacity="0.68"/>
<circle cx="1049.9" cy="184.5" r="1.45" fill="rgb(25,25,225)" fill-opacity="0.68"/>
<circle cx="1051.9" cy="200" r="1.45" fill="rgb(25,25,225)" fill-opacity="0.68"/>
<circle cx="1053.8" cy="184.5" r="1.45" fill="rgb(25,25,225)" fill-opacity="0.68"/>
<circle cx="1056.0" cy="200" r="1.45" fill="rgb(25,25,225)" fill-opacity="0.68"/>
<circle cx="1059.5" cy="153" r="1.45" fill="rgb(25,25,225)" fill-opacity="0.68"/>
<circle cx="1064.0" cy="399" r="1.45" fill="rgb(25,25,225)" fill-opacity="0.68"/>
<circle cx="1066.2" cy="153" r="1.45" fill="rgb(25,25,225)" fill-opacity="0.68"/>
<circle cx="1067.9" cy="399" r="1.45" fill="rgb(25,25,225)" fill-opacity="0.68"/>
<circle cx="1070.6" cy="170" r="1.45" fill="rgb(25,25,225)" fill-opacity="0.68"/>
<circle cx="1076.1" cy="153" r="1.45" fill="rgb(25,25,225)" fill-opacity="0.68"/>
<circle cx="1078.9" cy="415.2" r="1.45" fill="rgb(25,25,225)" fill-opacity="0.68"/>
<circle cx="1085.2" cy="399" r="1.45" fill="rgb(25,25,225)" fill-opacity="0.68"/>
<circle cx="1100.5" cy="430.6" r="1.45" fill="rgb(25,25,225)" fill-opacity="0.68"/>
<circle cx="1103.2" cy="445.6" r="1.45" fill="rgb(25,25,225)" fill-opacity="0.68"/>
<circle cx="1110.1" cy="184.5" r="1.45" fill="rgb(25,25,225)" fill-opacity="0.68"/>
<circle cx="1113.6" cy="430" r="1.45" fill="rgb(25,25,225)" fill-opacity="0.68"/>
<circle cx="1115.5" cy="200" r="1.45" fill="rgb(25,25,225)" fill-opacity="0.68"/>
<circle cx="1117.3" cy="415.2" r="1.45" fill="rgb(25,25,225)" fill-opacity="0.68"/>
<circle cx="1120.5" cy="184.5" r="1.45" fill="rgb(25,25,225)" fill-opacity="0.68"/>
<circle cx="1131.7" cy="445.6" r="1.45" fill="rgb(25,25,225)" fill-opacity="0.68"/>
<circle cx="1144.3" cy="170" r="1.45" fill="rgb(25,25,225)" fill-opacity="0.68"/>
<circle cx="1146.2" cy="399" r="1.45" fill="rgb(25,25,225)" fill-opacity="0.68"/>
<circle cx="1154.3" cy="430" r="1.45" fill="rgb(25,25,225)" fill-opacity="0.68"/>
<circle cx="1156.8" cy="170" r="1.45" fill="rgb(25,25,225)" fill-opacity="0.68"/>
<circle cx="1173.9" cy="184.5" r="1.45" fill="rgb(25,25,225)" fill-opacity="0.68"/>
<circle cx="1177.4" cy="430" r="1.45" fill="rgb(25,25,225)" fill-opacity="0.68"/>
<circle cx="1182.9" cy="170" r="1.45" fill="rgb(25,25,225)" fill-opacity="0.68"/>
<circle cx="1185.4" cy="430" r="1.45" fill="rgb(25,25,225)" fill-opacity="0.68"/>
<circle cx="1195.2" cy="430" r="1.45" fill="rgb(25,25,225)" fill-opacity="0.68"/>
<circle cx="1214.4" cy="184.5" r="1.45" fill="rgb(25,25,225)" fill-opacity="0.68"/>
<circle cx="1232.2" cy="184.5" r="1.45" fill="rgb(25,25,225)" fill-opacity="0.68"/>
<circle cx="1235.4" cy="430" r="1.45" fill="rgb(25,25,225)" fill-opacity="0.68"/>
<circle cx="1238.5" cy="184.5" r="1.45" fill="rgb(25,25,225)" fill-opacity="0.68"/>
<circle cx="1240.5" cy="430" r="1.45" fill="rgb(25,25,225)" fill-opacity="0.68"/>
<circle cx="1243.7" cy="415.2" r="1.45" fill="rgb(25,25,225)" fill-opacity="0.68"/>
<circle cx="1246.9" cy="430" r="1.45" fill="rgb(25,25,225)" fill-opacity="0.68"/>
<circle cx="1250.6" cy="184.5" r="1.45" fill="rgb(25,25,225)" fill-opacity="0.68"/>
<circle cx="1252.5" cy="430" r="1.45" fill="rgb(25,25,225)" fill-opacity="0.68"/>
<circle cx="1254.4" cy="184.5" r="1.45" fill="rgb(25,25,225)" fill-opacity="0.68"/>
<text x="15.5" y="31.9" textLength="326.8" lengthAdjust="spacingAndGlyphs" font-family="'Liberation Sans', Arial, sans-serif" font-size="14" font-weight="bold" fill="#0d0d14" xml:space="preserve">ATS: Output Power (w) - Legacy Custom Line Graph</text>
<text x="15.5" y="47.9" textLength="133.6" lengthAdjust="spacingAndGlyphs" font-family="'Liberation Sans', Arial, sans-serif" font-size="10" font-weight="normal" fill="#141414" stroke="#141414" stroke-width="0.22" xml:space="preserve">CUSTOM OBJECT RESOURCE</text>
<text x="523.1" y="29.9" textLength="21.4" lengthAdjust="spacingAndGlyphs" font-family="'Liberation Sans', Arial, sans-serif" font-size="9.3" font-weight="normal" fill="#5a5a5a" xml:space="preserve">EDIT</text>
<text x="553.9" y="29.9" textLength="24.2" lengthAdjust="spacingAndGlyphs" font-family="'Liberation Sans', Arial, sans-serif" font-size="9.3" font-weight="normal" fill="#5a5a5a" xml:space="preserve">HELP</text>
<text x="216.9" y="69.1" textLength="161.0" lengthAdjust="spacingAndGlyphs" font-family="'Liberation Sans', Arial, sans-serif" font-size="15" font-weight="bold" fill="#0d0d0d" xml:space="preserve">ATS: Output Power (w)</text>
<text x="170.9" y="82.9" textLength="251.6" lengthAdjust="spacingAndGlyphs" font-family="'Liberation Sans', Arial, sans-serif" font-size="11" font-weight="normal" fill="#1e1e1e" stroke="#1e1e1e" stroke-width="0.22" xml:space="preserve">ATS: Output Power (w) - Legacy Custom Line Graph</text>
<text x="230.3" y="95.0" textLength="131.6" lengthAdjust="spacingAndGlyphs" font-family="'Liberation Sans', Arial, sans-serif" font-size="11" font-weight="normal" fill="#1e1e1e" stroke="#1e1e1e" stroke-width="0.22" xml:space="preserve">Last 24 Hours (Every Hour)</text>
<text x="53.1" y="126.8" textLength="21.6" lengthAdjust="spacingAndGlyphs" font-family="'DejaVu Sans', Verdana, sans-serif" font-size="8.7" font-weight="normal" fill="#626262" xml:space="preserve">1415</text>
<text x="53.1" y="162.7" textLength="21.6" lengthAdjust="spacingAndGlyphs" font-family="'DejaVu Sans', Verdana, sans-serif" font-size="8.7" font-weight="normal" fill="#626262" xml:space="preserve">1410</text>
<text x="53.1" y="197.3" textLength="21.6" lengthAdjust="spacingAndGlyphs" font-family="'DejaVu Sans', Verdana, sans-serif" font-size="8.7" font-weight="normal" fill="#626262" xml:space="preserve">1405</text>
<text x="53.1" y="232.7" textLength="21.6" lengthAdjust="spacingAndGlyphs" font-family="'DejaVu Sans', Verdana, sans-serif" font-size="8.7" font-weight="normal" fill="#626262" xml:space="preserve">1400</text>
<text x="53.1" y="268.6" textLength="21.6" lengthAdjust="spacingAndGlyphs" font-family="'DejaVu Sans', Verdana, sans-serif" font-size="8.7" font-weight="normal" fill="#626262" xml:space="preserve">1395</text>
<text x="53.1" y="303.7" textLength="21.6" lengthAdjust="spacingAndGlyphs" font-family="'DejaVu Sans', Verdana, sans-serif" font-size="8.7" font-weight="normal" fill="#626262" xml:space="preserve">1390</text>
<text x="53.1" y="339.0" textLength="21.6" lengthAdjust="spacingAndGlyphs" font-family="'DejaVu Sans', Verdana, sans-serif" font-size="8.7" font-weight="normal" fill="#626262" xml:space="preserve">1385</text>
<text x="53.1" y="374.3" textLength="21.6" lengthAdjust="spacingAndGlyphs" font-family="'DejaVu Sans', Verdana, sans-serif" font-size="8.7" font-weight="normal" fill="#626262" xml:space="preserve">1380</text>
<text x="53.1" y="409.6" textLength="21.6" lengthAdjust="spacingAndGlyphs" font-family="'DejaVu Sans', Verdana, sans-serif" font-size="8.7" font-weight="normal" fill="#626262" xml:space="preserve">1375</text>
<text x="63.1" y="432.0" textLength="43.6" lengthAdjust="spacingAndGlyphs" font-family="'DejaVu Sans', Verdana, sans-serif" font-size="8.7" font-weight="normal" fill="#626262" xml:space="preserve">10:00 AM</text>
<text x="59.9" y="442.7" textLength="59.4" lengthAdjust="spacingAndGlyphs" font-family="'DejaVu Sans', Verdana, sans-serif" font-size="8.7" font-weight="normal" fill="#626262" xml:space="preserve">Wed, Nov 25</text>
<text x="168.5" y="432.0" textLength="38.2" lengthAdjust="spacingAndGlyphs" font-family="'DejaVu Sans', Verdana, sans-serif" font-size="8.7" font-weight="normal" fill="#626262" xml:space="preserve">3:00 PM</text>
<text x="265.7" y="432.0" textLength="38.2" lengthAdjust="spacingAndGlyphs" font-family="'DejaVu Sans', Verdana, sans-serif" font-size="8.7" font-weight="normal" fill="#626262" xml:space="preserve">8:00 PM</text>
<text x="362.3" y="432.0" textLength="38.4" lengthAdjust="spacingAndGlyphs" font-family="'DejaVu Sans', Verdana, sans-serif" font-size="8.7" font-weight="normal" fill="#626262" xml:space="preserve">1:00 AM</text>
<text x="355.9" y="442.7" textLength="55.8" lengthAdjust="spacingAndGlyphs" font-family="'DejaVu Sans', Verdana, sans-serif" font-size="8.7" font-weight="normal" fill="#626262" xml:space="preserve">Thu, Nov 26</text>
<text x="461.5" y="432.0" textLength="38.6" lengthAdjust="spacingAndGlyphs" font-family="'DejaVu Sans', Verdana, sans-serif" font-size="8.7" font-weight="normal" fill="#626262" xml:space="preserve">6:00 AM</text>
<text x="20.3" y="456.8" textLength="233.0" lengthAdjust="spacingAndGlyphs" font-family="'Liberation Sans', Arial, sans-serif" font-size="11" font-weight="normal" fill="#141414" stroke="#141414" stroke-width="0.22" xml:space="preserve">Time Zone: Eastern Standard Time (UTC-05:00)</text>
<text x="19.3" y="468.9" textLength="219.2" lengthAdjust="spacingAndGlyphs" font-family="'Liberation Sans', Arial, sans-serif" font-size="11" font-weight="normal" fill="#141414" stroke="#141414" stroke-width="0.22" xml:space="preserve">SolarWinds Server &amp; Application Monitor  6.2</text>
<text x="613.5" y="31.9" textLength="154.2" lengthAdjust="spacingAndGlyphs" font-family="'Liberation Sans', Arial, sans-serif" font-size="14" font-weight="bold" fill="#0d0d14" xml:space="preserve">Custom Object Resource</text>
<text x="613.3" y="47.9" textLength="132.8" lengthAdjust="spacingAndGlyphs" font-family="'Liberation Sans', Arial, sans-serif" font-size="10" font-weight="normal" fill="#141414" stroke="#141414" stroke-width="0.22" xml:space="preserve">CUSTOM OBJECT RESOURCE</text>
<text x="1223.1" y="29.9" textLength="20.6" lengthAdjust="spacingAndGlyphs" font-family="'Liberation Sans', Arial, sans-serif" font-size="9.3" font-weight="normal" fill="#5a5a5a" xml:space="preserve">EDIT</text>
<text x="1253.3" y="29.9" textLength="24.0" lengthAdjust="spacingAndGlyphs" font-family="'Liberation Sans', Arial, sans-serif" font-size="9.3" font-weight="normal" fill="#5a5a5a" xml:space="preserve">HELP</text>
<text x="864.9" y="69.0" textLength="161.8" lengthAdjust="spacingAndGlyphs" font-family="'Liberation Sans', Arial, sans-serif" font-size="15" font-weight="bold" fill="#0d0d0d" xml:space="preserve">ATS: Output Power (w)</text>
<text x="884.1" y="82.8" textLength="121.8" lengthAdjust="spacingAndGlyphs" font-family="'Liberation Sans', Arial, sans-serif" font-size="11" font-weight="normal" fill="#1e1e1e" stroke="#1e1e1e" stroke-width="0.22" xml:space="preserve">Custom Object Resource</text>
<text x="867.5" y="95.0" textLength="156.0" lengthAdjust="spacingAndGlyphs" font-family="'Liberation Sans', Arial, sans-serif" font-size="11" font-weight="normal" fill="#1e1e1e" stroke="#1e1e1e" stroke-width="0.22" xml:space="preserve">Last 24 Hours (Every 5 Minutes)</text>
<text x="657.1" y="156.1" textLength="15.8" lengthAdjust="spacingAndGlyphs" font-family="'DejaVu Sans', Verdana, sans-serif" font-size="8.7" font-weight="normal" fill="#626262" xml:space="preserve">725</text>
<text x="657.1" y="209.0" textLength="15.8" lengthAdjust="spacingAndGlyphs" font-family="'DejaVu Sans', Verdana, sans-serif" font-size="8.7" font-weight="normal" fill="#626262" xml:space="preserve">715</text>
<text x="657.1" y="260.7" textLength="15.8" lengthAdjust="spacingAndGlyphs" font-family="'DejaVu Sans', Verdana, sans-serif" font-size="8.7" font-weight="normal" fill="#626262" xml:space="preserve">705</text>
<text x="657.1" y="313.8" textLength="15.8" lengthAdjust="spacingAndGlyphs" font-family="'DejaVu Sans', Verdana, sans-serif" font-size="8.7" font-weight="normal" fill="#626262" xml:space="preserve">695</text>
<text x="657.1" y="365.8" textLength="15.8" lengthAdjust="spacingAndGlyphs" font-family="'DejaVu Sans', Verdana, sans-serif" font-size="8.7" font-weight="normal" fill="#626262" xml:space="preserve">685</text>
<text x="657.1" y="418.1" textLength="15.8" lengthAdjust="spacingAndGlyphs" font-family="'DejaVu Sans', Verdana, sans-serif" font-size="8.7" font-weight="normal" fill="#626262" xml:space="preserve">675</text>
<text x="657.1" y="469.9" textLength="15.8" lengthAdjust="spacingAndGlyphs" font-family="'DejaVu Sans', Verdana, sans-serif" font-size="8.7" font-weight="normal" fill="#626262" xml:space="preserve">665</text>
<text x="650.7" y="495.9" textLength="44.2" lengthAdjust="spacingAndGlyphs" font-family="'DejaVu Sans', Verdana, sans-serif" font-size="8.7" font-weight="normal" fill="#626262" xml:space="preserve">10:35 AM</text>
<text x="648.5" y="506.6" textLength="59.2" lengthAdjust="spacingAndGlyphs" font-family="'DejaVu Sans', Verdana, sans-serif" font-size="8.7" font-weight="normal" fill="#626262" xml:space="preserve">Wed, Nov 25</text>
<text x="758.5" y="495.9" textLength="38.0" lengthAdjust="spacingAndGlyphs" font-family="'DejaVu Sans', Verdana, sans-serif" font-size="8.7" font-weight="normal" fill="#626262" xml:space="preserve">2:40 PM</text>
<text x="858.5" y="495.9" textLength="37.8" lengthAdjust="spacingAndGlyphs" font-family="'DejaVu Sans', Verdana, sans-serif" font-size="8.7" font-weight="normal" fill="#626262" xml:space="preserve">6:45 PM</text>
<text x="957.1" y="495.9" textLength="43.6" lengthAdjust="spacingAndGlyphs" font-family="'DejaVu Sans', Verdana, sans-serif" font-size="8.7" font-weight="normal" fill="#626262" xml:space="preserve">10:50 PM</text>
<text x="1058.3" y="495.9" textLength="38.0" lengthAdjust="spacingAndGlyphs" font-family="'DejaVu Sans', Verdana, sans-serif" font-size="8.7" font-weight="normal" fill="#626262" xml:space="preserve">2:55 AM</text>
<text x="1051.9" y="506.6" textLength="55.8" lengthAdjust="spacingAndGlyphs" font-family="'DejaVu Sans', Verdana, sans-serif" font-size="8.7" font-weight="normal" fill="#626262" xml:space="preserve">Thu, Nov 26</text>
<text x="1161.5" y="495.9" textLength="38.0" lengthAdjust="spacingAndGlyphs" font-family="'DejaVu Sans', Verdana, sans-serif" font-size="8.7" font-weight="normal" fill="#626262" xml:space="preserve">7:00 AM</text>
<text x="617.3" y="520.8" textLength="233.0" lengthAdjust="spacingAndGlyphs" font-family="'Liberation Sans', Arial, sans-serif" font-size="11" font-weight="normal" fill="#141414" stroke="#141414" stroke-width="0.22" xml:space="preserve">Time Zone: Eastern Standard Time (UTC-05:00)</text>
<text x="617.3" y="532.6" textLength="217.6" lengthAdjust="spacingAndGlyphs" font-family="'Liberation Sans', Arial, sans-serif" font-size="11" font-weight="normal" fill="#141414" stroke="#141414" stroke-width="0.22" xml:space="preserve">SolarWinds Server &amp; Application Monitor  6.2</text>
<text x="15.5" y="532.9" textLength="369.4" lengthAdjust="spacingAndGlyphs" font-family="'Liberation Sans', Arial, sans-serif" font-size="14" font-weight="bold" fill="#0d0d14" xml:space="preserve">ATS: Output Percent Load (%) - Legacy Custom Line Graph</text>
<text x="15.5" y="548.7" textLength="133.6" lengthAdjust="spacingAndGlyphs" font-family="'Liberation Sans', Arial, sans-serif" font-size="10" font-weight="normal" fill="#141414" stroke="#141414" stroke-width="0.22" xml:space="preserve">CUSTOM OBJECT RESOURCE</text>
<text x="523.1" y="530.9" textLength="21.4" lengthAdjust="spacingAndGlyphs" font-family="'Liberation Sans', Arial, sans-serif" font-size="9.3" font-weight="normal" fill="#5a5a5a" xml:space="preserve">EDIT</text>
<text x="553.9" y="530.9" textLength="24.2" lengthAdjust="spacingAndGlyphs" font-family="'Liberation Sans', Arial, sans-serif" font-size="9.3" font-weight="normal" fill="#5a5a5a" xml:space="preserve">HELP</text>
<text transform="translate(30.9,312.8) rotate(-90)" x="0" y="0" textLength="78.2" lengthAdjust="spacingAndGlyphs" font-family="'Liberation Sans', Arial, sans-serif" font-size="13.5" fill="#1e1e1e">Statistic Data</text>
<text transform="translate(628.0,345.0) rotate(-90)" x="0" y="0" textLength="78.6" lengthAdjust="spacingAndGlyphs" font-family="'Liberation Sans', Arial, sans-serif" font-size="13" fill="#1e1e1e">Statistic Data</text>
<text x="194.3" y="569.5" textLength="208" lengthAdjust="spacingAndGlyphs" font-family="'Liberation Sans', Arial, sans-serif" font-size="15" font-weight="bold" fill="#0d0d0d">ATS: Output Percent Load (%)</text>
</svg>
</body></html>
